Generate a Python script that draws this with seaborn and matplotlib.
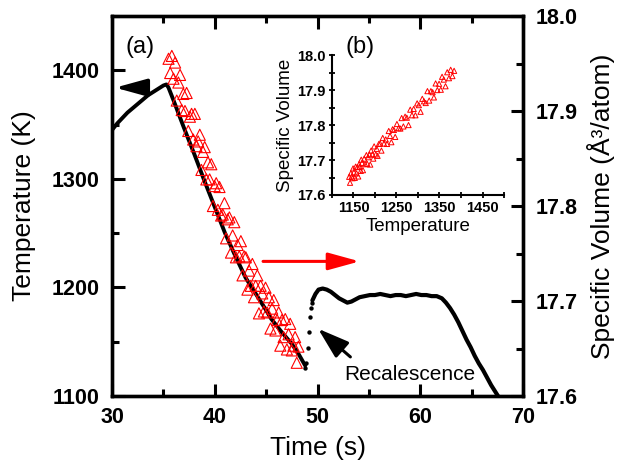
import matplotlib
matplotlib.use("Agg")
import matplotlib.pyplot as plt
from matplotlib.ticker import MultipleLocator, FixedLocator
import seaborn as sns
import pandas as pd

# ---------------- data ----------------
# temperature trace (black), heating + cooling segment
cool_time = [30.0, 30.5, 31.0, 31.5, 32.0, 32.5, 33.0, 33.5, 34.0, 34.5, 35.0, 35.3,
             35.5, 36.0, 37.0, 38.0, 39.0, 40.0, 41.0, 42.0, 43.0, 44.0, 45.0,
             45.5, 46.5, 47.5, 48.2, 48.8]
cool_temp = [1345, 1351, 1356, 1361, 1365, 1369, 1373, 1377, 1380, 1383, 1386, 1387,
             1384, 1372, 1347, 1323, 1298, 1274, 1250, 1229, 1209, 1194, 1179,
             1171, 1159, 1148, 1138, 1128]
# sparse points during recalescence
recal_time = [48.75, 48.85, 49.05, 49.2, 49.3, 49.4, 49.45]
recal_temp = [1126, 1130, 1144, 1159, 1173, 1181, 1186]
# plateau and final cooling
plat_time = [49.5, 49.8, 50.1, 50.5, 50.9, 51.3, 51.7, 52.1, 52.5, 52.9, 53.3, 53.7,
             54.1, 54.6, 55.1, 55.6, 56.1, 56.6, 57.1, 57.6, 58.1, 58.6, 59.1, 59.6,
             60.1, 60.6, 61.1, 61.6, 62.1, 62.5, 62.9, 63.3, 63.7, 64.1, 64.5, 64.9,
             65.3, 65.7, 66.1, 66.5, 66.9, 67.3, 67.7]
plat_temp = [1188, 1194, 1198, 1199, 1198, 1196, 1193, 1190, 1188, 1186, 1187, 1189,
             1191, 1192, 1193, 1193, 1194, 1193, 1192, 1193, 1193, 1192, 1193, 1194,
             1193, 1193, 1192, 1192, 1190, 1186, 1181, 1175, 1168, 1160, 1152, 1145,
             1137, 1130, 1124, 1117, 1110, 1104, 1098]

# specific volume (red triangles)
vol_time = [35.50, 35.66, 35.82, 35.98, 36.14, 36.30, 36.46, 36.62, 36.78, 36.94,
            37.10, 37.26, 37.42, 37.58, 37.74, 37.90, 38.06, 38.22, 38.38, 38.54,
            38.70, 38.86, 39.02, 39.18, 39.34, 39.50, 39.66, 39.82, 39.98, 40.14,
            40.30, 40.46, 40.62, 40.78, 40.94, 41.10, 41.26, 41.42, 41.58, 41.74,
            41.90, 42.06, 42.22, 42.38, 42.54, 42.70, 42.86, 43.02, 43.18, 43.34,
            43.50, 43.66, 43.82, 43.98, 44.14, 44.30, 44.46, 44.62, 44.78, 44.94,
            45.10, 45.26, 45.42, 45.58, 45.74, 45.90, 46.06, 46.22, 46.38, 46.54,
            46.70, 46.86, 47.02, 47.18, 47.34, 47.50, 47.66, 47.82, 47.98, 48.14]
volume = [17.955, 17.940, 17.958, 17.934, 17.951, 17.911, 17.930, 17.938, 17.901, 17.918,
          17.900, 17.919, 17.879, 17.894, 17.897, 17.870, 17.897, 17.863, 17.868, 17.875,
          17.838, 17.857, 17.862, 17.828, 17.846, 17.828, 17.844, 17.800, 17.821, 17.824,
          17.796, 17.820, 17.790, 17.791, 17.803, 17.766, 17.786, 17.788, 17.751, 17.769,
          17.783, 17.746, 17.759, 17.747, 17.763, 17.727, 17.747, 17.746, 17.712, 17.732,
          17.716, 17.739, 17.704, 17.716, 17.727, 17.687, 17.716, 17.708, 17.689, 17.714,
          17.688, 17.704, 17.671, 17.692, 17.701, 17.669, 17.680, 17.688, 17.653, 17.680,
          17.662, 17.681, 17.649, 17.665, 17.676, 17.648, 17.653, 17.662, 17.635, 17.652]
vol_temp = [1384, 1380, 1376, 1372, 1368, 1364, 1360, 1356, 1353, 1349,
            1345, 1341, 1337, 1334, 1330, 1326, 1322, 1318, 1314, 1310,
            1306, 1302, 1298, 1294, 1290, 1286, 1282, 1278, 1274, 1270,
            1266, 1262, 1259, 1255, 1251, 1247, 1244, 1241, 1238, 1235,
            1232, 1228, 1225, 1221, 1218, 1215, 1212, 1209, 1206, 1204,
            1202, 1198, 1196, 1194, 1191, 1189, 1187, 1184, 1182, 1180,
            1177, 1175, 1172, 1170, 1168, 1167, 1164, 1163, 1161, 1159,
            1157, 1155, 1153, 1151, 1149, 1148, 1146, 1144, 1142, 1140]

x_ticks = [30, 40, 50, 60, 70]
left_ticks = [1100, 1200, 1300, 1400]
right_ticks = [17.6, 17.7, 17.8, 17.9, 18.0]
inset_xticks = [1150, 1250, 1350, 1450]
inset_yticks = [17.6, 17.7, 17.8, 17.9, 18.0]

# ---------------- style ----------------
sns.set_theme(style="ticks")
plt.rcParams['font.family'] = ['Liberation Sans', 'DejaVu Sans']
plt.rcParams['axes.linewidth'] = 2.4
for key in ['axes.edgecolor', 'xtick.color', 'ytick.color', 'text.color',
            'axes.labelcolor']:
    plt.rcParams[key] = 'black'

fig = plt.figure(figsize=(6.21, 4.71), dpi=100)
ax = fig.add_axes([0.1804, 0.1592, 0.6618, 0.8068])
ax2 = ax.twinx()

df_cool = pd.DataFrame({"t": cool_time, "T": cool_temp})
df_plat = pd.DataFrame({"t": plat_time, "T": plat_temp})
df_recal = pd.DataFrame({"t": recal_time, "T": recal_temp})
df_vol = pd.DataFrame({"t": vol_time, "V": volume, "T": vol_temp})

sns.lineplot(data=df_cool, x="t", y="T", ax=ax, color="black", lw=2.8,
             sort=False, estimator=None)
sns.lineplot(data=df_plat, x="t", y="T", ax=ax, color="black", lw=3.0,
             sort=False, estimator=None)
sns.scatterplot(data=df_recal, x="t", y="T", ax=ax, color="black", s=10,
                edgecolor="black", linewidth=0)

sns.scatterplot(data=df_vol, x="t", y="V", ax=ax2, marker="^", s=64,
                facecolor="none", edgecolor="red", linewidth=0.8)

ax.set_xlim(30, 70)
ax.set_ylim(1100, 1450)
ax2.set_ylim(17.6, 18.0)

ax.xaxis.set_major_locator(FixedLocator(x_ticks))
ax.xaxis.set_minor_locator(MultipleLocator(5))
ax.yaxis.set_major_locator(FixedLocator(left_ticks))
ax.yaxis.set_minor_locator(MultipleLocator(50))
ax2.yaxis.set_major_locator(FixedLocator(right_ticks))
ax2.yaxis.set_minor_locator(MultipleLocator(0.05))
ax2.set_yticklabels([f"{v:.1f}" for v in right_ticks])
ax.set_xticklabels([str(v) for v in x_ticks])
ax.set_yticklabels([str(v) for v in left_ticks])

ax.tick_params(axis='both', which='major', direction='in', length=9, width=2.2,
               labelsize=15.5, top=True, right=False)
ax.tick_params(axis='both', which='minor', direction='in', length=5, width=2.2,
               top=True, right=False)
ax.tick_params(axis='x', pad=8)
ax.tick_params(axis='y', pad=9)
ax2.tick_params(axis='y', which='major', direction='in', length=9, width=2.2,
                labelsize=15.5, pad=9)
ax2.tick_params(axis='y', which='minor', direction='in', length=5, width=2.2)
for lab in ax.get_xticklabels() + ax.get_yticklabels() + ax2.get_yticklabels():
    lab.set_fontweight('bold')

ax.set_xlabel("Time (s)", fontsize=19)
ax.set_ylabel("Temperature (K)", fontsize=19)
ax2.set_ylabel("Specific Volume (Å³/atom)", fontsize=19, rotation=90)
ax.xaxis.set_label_coords(0.5, -0.105)
ax.yaxis.set_label_coords(-0.215, 0.5)
ax2.yaxis.set_label_coords(1.19, 0.5)
ax2.yaxis.label.set_va('center')
ax.yaxis.label.set_va('center')

# annotations
ax.text(32.7, 1421, "(a)", fontsize=17, ha="center", va="center")
arrow_style = "-|>,head_length=0.8,head_width=0.22"
ax.annotate("", xy=(30.3, 1384), xytext=(33.4, 1384),
            arrowprops=dict(arrowstyle=arrow_style, color="black", lw=2.5,
                            mutation_scale=24, shrinkA=0, shrinkB=0))
ax.annotate("", xy=(54.1, 1224), xytext=(44.7, 1224),
            arrowprops=dict(arrowstyle=arrow_style, color="red", lw=2.2,
                            mutation_scale=24, shrinkA=0, shrinkB=0))
ax.annotate("", xy=(50.05, 1162), xytext=(53.2, 1136),
            arrowprops=dict(arrowstyle="-|>,head_length=0.8,head_width=0.26",
                            color="black", lw=2.2, mutation_scale=24,
                            shrinkA=0, shrinkB=0))
ax.text(59.0, 1120, "Recalescence", fontsize=15, ha="center", va="center")

# inset
axi = fig.add_axes([0.5346, 0.586, 0.277, 0.297])
axi.patch.set_alpha(0)
sns.scatterplot(data=df_vol, x="T", y="V", ax=axi, marker="^", s=14,
                facecolor="none", edgecolor="red", linewidth=0.7)
axi.set_xlim(1100, 1500)
axi.set_ylim(17.6, 18.0)
axi.xaxis.set_major_locator(FixedLocator(inset_xticks))
axi.xaxis.set_minor_locator(MultipleLocator(50))
axi.yaxis.set_major_locator(FixedLocator(inset_yticks))
axi.yaxis.set_minor_locator(MultipleLocator(0.05))
axi.set_xticklabels([str(v) for v in inset_xticks])
axi.set_yticklabels([f"{v:.1f}" for v in inset_yticks])
for side in ["top", "right"]:
    axi.spines[side].set_visible(False)
for side in ["left", "bottom"]:
    axi.spines[side].set_linewidth(1.5)
axi.tick_params(axis='both', which='both', direction='inout', length=5, width=1.3,
                labelsize=10.5, pad=2)
for lab in axi.get_xticklabels() + axi.get_yticklabels():
    lab.set_fontweight('bold')
axi.set_xlabel("Temperature", fontsize=13.5, labelpad=2)
axi.set_ylabel("Specific Volume", fontsize=13.5, labelpad=2)
axi.text(0.163, 1.057, "(b)", fontsize=17, ha="center", va="center",
         transform=axi.transAxes)

fig.savefig("out.png", dpi=100)
